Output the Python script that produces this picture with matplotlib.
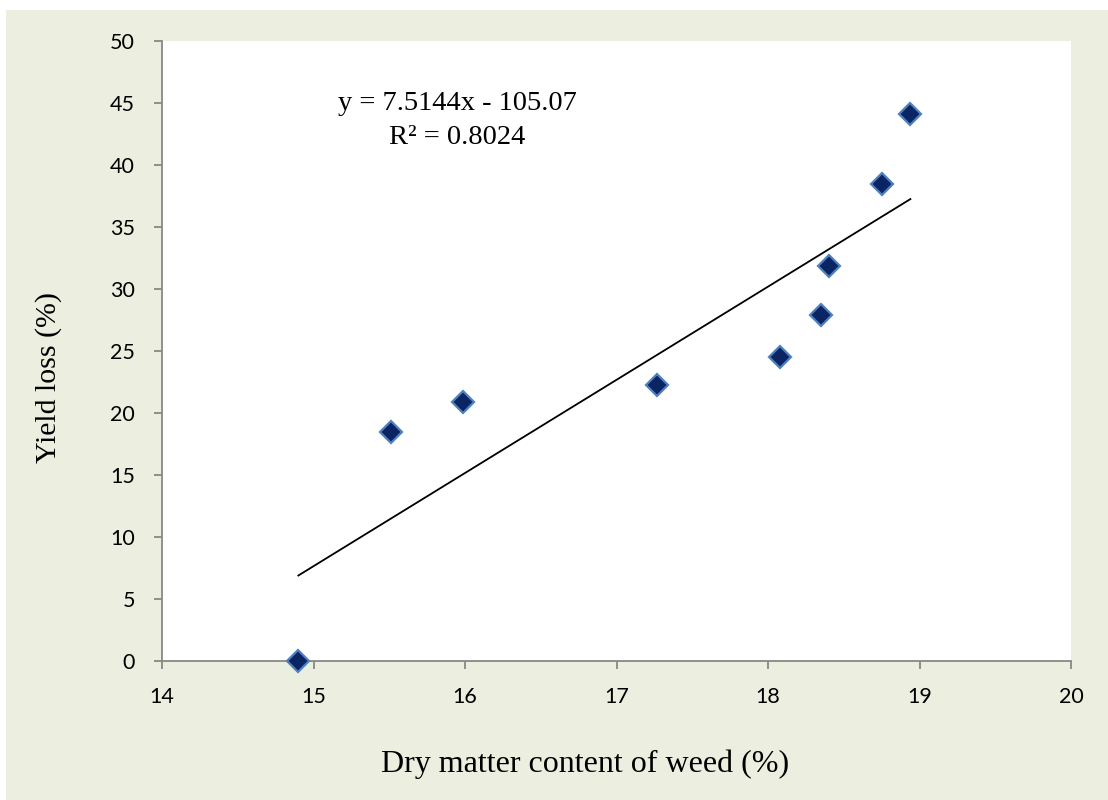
import numpy as np
import matplotlib
matplotlib.use("Agg")
import matplotlib.pyplot as plt
from matplotlib.patches import Rectangle

# data
dry_matter = [14.90, 15.51, 15.99, 17.27, 18.08, 18.35, 18.40, 18.75, 18.94]
yield_loss = [0.0, 18.45, 20.85, 22.25, 24.5, 27.9, 31.85, 38.5, 44.15]
slope = 7.5144
intercept = -105.07
r_squared = 0.8024
x_ticks = [14, 15, 16, 17, 18, 19, 20]
y_ticks = [0, 5, 10, 15, 20, 25, 30, 35, 40, 45, 50]

BG = "#ECEEDF"
AXIS_GREY = "#888888"
W, H = 1108, 800

fig = plt.figure(figsize=(W / 100, H / 100), dpi=100, facecolor="white")
# beige chart area (leaves a thin white strip top/left like the original)
fig.patches.append(Rectangle((6 / W, 0), 1 - 6 / W, 790 / H,
                             transform=fig.transFigure, facecolor=BG,
                             edgecolor="none", zorder=-10))

ax = fig.add_axes([162 / W, 139 / H, 909 / W, 620 / H])
ax.set_facecolor("white")

# trend line from the printed equation
xs = np.array([min(dry_matter), max(dry_matter)])
ax.plot(xs, slope * xs + intercept, color="black", lw=1.3, zorder=2)

ax.plot(dry_matter, yield_loss, linestyle="none", marker="D", markersize=11,
        markerfacecolor="#0B2463", markeredgecolor="#4F81BD", markeredgewidth=1.6,
        zorder=3, clip_on=False)

ax.set_xlim(14, 20)
ax.set_ylim(0, 50)
ax.set_xticks(x_ticks)
ax.set_yticks(y_ticks)

for side in ["top", "right"]:
    ax.spines[side].set_visible(False)
for side in ["left", "bottom"]:
    ax.spines[side].set_color(AXIS_GREY)
    ax.spines[side].set_linewidth(1.3)
ax.tick_params(direction="out", length=6, width=1.3, color=AXIS_GREY,
               labelsize=15.5)
ax.tick_params(axis="x", pad=13)
ax.tick_params(axis="y", pad=13.5)
for lab in ax.get_xticklabels() + ax.get_yticklabels():
    lab.set_family(["Lato", "DejaVu Sans"])

# axis titles sit a bit off-centre in the original, so place them by hand
fig.text(585 / W, 1 - 764 / H, "Dry matter content of weed (%)",
         family="Liberation Serif", fontsize=23, ha="center", va="center")
fig.text(49 / W, 1 - 378 / H, "Yield loss (%)", family="Liberation Serif",
         fontsize=21.5, rotation=90, ha="center", va="center")

ax.text(15.95, 45.0, f"y = {slope}x - {abs(intercept)}", fontsize=20.5,
        family="Liberation Serif", ha="center", va="center")
ax.text(15.95, 42.25, f"R² = {r_squared}", fontsize=20.5,
        family="Liberation Serif", ha="center", va="center")

fig.savefig("out.png", dpi=100)
